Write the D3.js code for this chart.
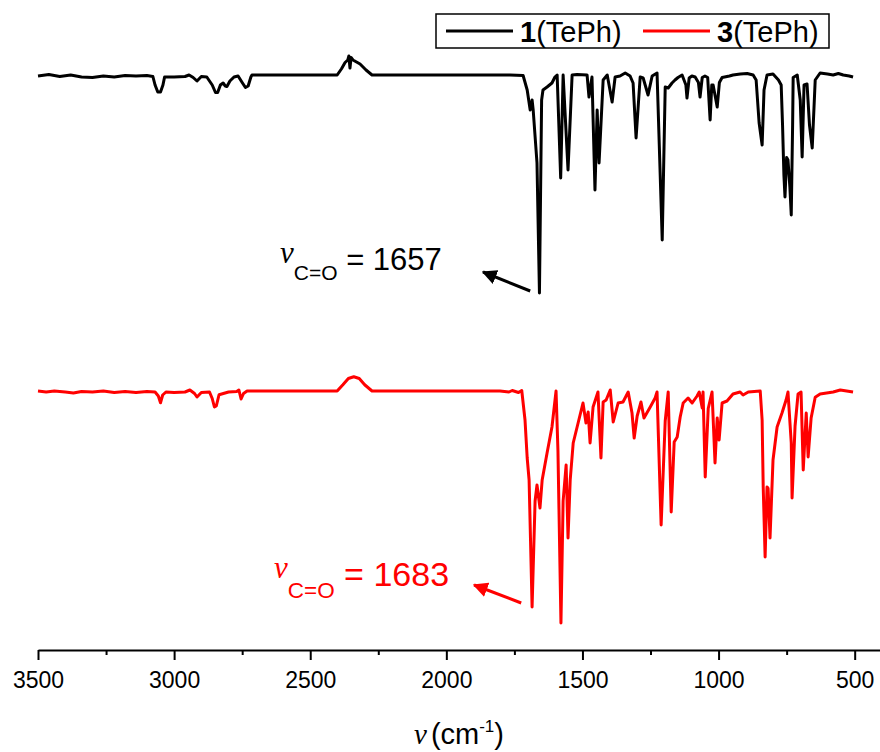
<!DOCTYPE html>
<html>
<head>
<meta charset="utf-8">
<script src="https://cdn.jsdelivr.net/npm/d3@7"></script>
<style>
  body { margin: 0; background: #fff; }
  svg { display: block; font-family: "Liberation Sans", Arial, sans-serif; }
</style>
</head>
<body>
<svg id="chart" width="880" height="752"></svg>
<script>
const SVG_WIDTH = 880;
const SVG_HEIGHT = 752;

// x axis ticks (cm-1)
const majorTicks = [3500, 3000, 2500, 2000, 1500, 1000, 500];
const minorTicks = [3250, 2750, 2250, 1750, 1250, 750];

const seriesNames = ['1', '3'];
const seriesColors = ['#000000', '#ff0000'];
// vertical stacking offset of each trace (transmittance units)
const seriesOffsets = [126.4, 0];
const carbonylBands = [1657, 1683];

// [wavenumber, %T]
const spectrum1 = [
  [3500, 99.6], [3460, 100.2], [3420, 99.4], [3380, 100], [3340, 99.2], [3300, 99.0],
  [3260, 99.6], [3220, 99.2], [3180, 99.8], [3140, 99.6], [3100, 99.8], [3078, 99.4],
  [3070, 96], [3060, 93.2], [3050, 93.2], [3041, 96], [3035, 99.2], [3000, 99.2],
  [2960, 99.4], [2945, 100], [2930, 99], [2916, 97.6], [2900, 99.4], [2880, 99.2],
  [2860, 96], [2848, 93], [2840, 93], [2830, 96], [2820, 96.8], [2812, 95.6],
  [2806, 95.4], [2795, 97.6], [2780, 99.2], [2765, 99.6], [2750, 97], [2738, 95],
  [2728, 95.6], [2718, 99.2], [2714, 100], [2600, 100], [2500, 100], [2401, 100],
  [2385, 102.5], [2372, 105], [2362, 106], [2358, 107.6], [2354, 102.8], [2350, 107],
  [2343, 106], [2317, 104.4], [2295, 102], [2273, 100], [2200, 100], [2100, 100],
  [2000, 100], [1900, 100], [1800, 100], [1766, 100], [1718, 99.8], [1703, 94],
  [1692, 86], [1685, 90], [1681, 86], [1667, 64.8], [1658, 12.8], [1650, 90],
  [1645, 94], [1630, 95.2], [1612, 96.8], [1601, 99.2], [1593, 100], [1580, 58.8],
  [1571, 100], [1553, 62], [1538, 100], [1520, 100.2], [1483, 100], [1476, 91.2],
  [1465, 99.2], [1454, 54], [1446, 86], [1439, 64.8], [1424, 98], [1409, 100],
  [1391, 89.2], [1380, 99.2], [1362, 99.6], [1343, 100.8], [1325, 99.6], [1314, 96.8],
  [1303, 74.8], [1288, 99.2], [1277, 98.8], [1259, 92], [1244, 99.6], [1226, 100.8],
  [1207, 34], [1196, 95.2], [1185, 94.8], [1171, 96.8], [1160, 98], [1149, 99],
  [1134, 100], [1120, 96], [1116, 90.8], [1108, 98.8], [1098, 99.6], [1086, 99.2],
  [1074, 97], [1068, 91.2], [1060, 99], [1050, 99.6], [1040, 99], [1031, 82],
  [1025, 96], [1020, 96], [1005, 87.2], [997, 97], [987, 99], [960, 99.6],
  [947, 100], [920, 100.4], [895, 100.6], [873, 100], [862, 98], [851, 80.8],
  [840, 72], [833, 94], [822, 100], [800, 100.4], [780, 98], [770, 96],
  [765, 80], [760, 60], [756, 51.2], [750, 67], [745, 66], [738, 55],
  [733, 44], [728, 80], [726, 99], [711, 100], [700, 90], [693, 67.2],
  [686, 96], [675, 96.4], [666, 80], [656, 70.8], [645, 98], [627, 100.8],
  [600, 100.4], [579, 100], [560, 100.6], [542, 100], [520, 99.6], [506, 99.2]
];

const spectrum3 = [
  [3500, 100], [3470, 99.6], [3440, 100], [3400, 99.6], [3370, 99.2], [3340, 99.8],
  [3300, 99.6], [3260, 100], [3220, 99.4], [3180, 99.8], [3140, 99.4], [3100, 99.8],
  [3070, 99.6], [3058, 98], [3050, 95.3], [3042, 98.4], [3030, 99.6], [3000, 99.4],
  [2960, 99.6], [2942, 100.4], [2925, 99], [2916, 97.6], [2900, 99.4], [2870, 99.6],
  [2860, 97], [2852, 93.6], [2845, 94], [2835, 98.5], [2800, 99.6], [2770, 99.8],
  [2762, 100.4], [2754, 96.8], [2745, 99], [2732, 100], [2600, 100], [2500, 100],
  [2401, 100], [2380, 102.5], [2360, 105], [2340, 105.7], [2320, 105], [2300, 102.5],
  [2273, 100], [2000, 100], [1803, 100], [1770, 99.6], [1758, 100.2], [1735, 99.4],
  [1723, 100.2], [1711, 88.4], [1703, 73.2], [1696, 64.4], [1685, 13.6], [1674, 56],
  [1667, 62.4], [1656, 53.2], [1648, 64.4], [1630, 75.2], [1612, 85.6], [1597, 100],
  [1590, 76], [1579, 7.2], [1571, 56], [1560, 70.4], [1553, 41.2], [1545, 64.4],
  [1534, 79.2], [1516, 87.2], [1498, 95.2], [1487, 87.2], [1479, 91.6], [1472, 79.2],
  [1461, 93.6], [1443, 99.6], [1432, 73.2], [1424, 95.6], [1413, 96.4], [1398, 100.4],
  [1387, 87.6], [1369, 95.2], [1351, 95.6], [1332, 99.6], [1318, 91.2], [1310, 81.2],
  [1299, 90], [1285, 95.6], [1274, 89.2], [1251, 93.6], [1233, 97.2], [1226, 99.6],
  [1211, 46.4], [1196, 88], [1185, 99.6], [1174, 51.6], [1163, 79.6], [1152, 81.6],
  [1141, 89.6], [1130, 95.2], [1112, 97.2], [1097, 95.2], [1079, 98], [1071, 99.6],
  [1060, 93.2], [1057, 99.6], [1049, 65.6], [1038, 93], [1024, 99.6], [1013, 71.2],
  [1005, 89.2], [998, 80.4], [987, 95.2], [969, 96], [947, 98.8], [921, 99.6],
  [910, 98.4], [891, 99.6], [847, 100], [840, 88.4], [836, 61.6], [829, 33.6],
  [822, 61.6], [818, 61], [811, 41.2], [800, 72.4], [785, 85.6], [767, 91.2],
  [752, 96.4], [745, 99.6], [733, 79.2], [730, 57.2], [719, 86], [708, 98.8],
  [697, 99.6], [689, 68.4], [678, 91.2], [671, 73.6], [660, 89.2], [645, 97.5],
  [627, 98.8], [579, 99.6], [553, 100.4], [506, 99.6]
];

const spectra = [spectrum1, spectrum3];

const svg = d3.select('#chart');

const xScale = d3.scaleLinear()
  .domain([3500, 407])
  .range([38, SVG_WIDTH]);

const yScale = d3.scaleLinear()
  .domain([-3.6, 256.4])
  .range([650, 0]);

// axis
const axisG = svg.append('g')
  .attr('transform', 'translate(0,650)')
  .call(d3.axisBottom(xScale)
    .tickValues(majorTicks)
    .tickFormat(d3.format('d'))
    .tickSize(10)
    .tickSizeOuter(0)
    .tickPadding(12));

axisG.select('.domain').attr('stroke', '#000').attr('stroke-width', 2);
axisG.selectAll('.tick line').attr('stroke', '#000').attr('stroke-width', 2);
axisG.selectAll('.tick text')
  .attr('font-family', '"Liberation Sans Narrow", "Liberation Sans", Arial, sans-serif')
  .attr('font-size', 23)
  .attr('fill', '#000');

const minorG = svg.append('g')
  .attr('transform', 'translate(0,650)')
  .call(d3.axisBottom(xScale).tickValues(minorTicks).tickSize(5).tickFormat(''));
minorG.select('.domain').remove();
minorG.selectAll('.tick line').attr('stroke', '#000').attr('stroke-width', 2);

// axis title
const title = svg.append('text')
  .attr('x', 459)
  .attr('y', 744)
  .attr('text-anchor', 'middle')
  .attr('font-size', 29)
  .attr('fill', '#000');
title.append('tspan').attr('font-family', '"Liberation Serif", serif').attr('font-style', 'italic').text('ν');
title.append('tspan').attr('dx', 4).text('(cm');
title.append('tspan').attr('dy', -12).attr('font-size', 17).text('-1');
title.append('tspan').attr('dy', 12).text(')');

// spectra
const line = d3.line()
  .x(d => xScale(d[0]))
  .y(d => d[1]);

spectra.forEach((data, i) => {
  svg.append('path')
    .datum(data.map(d => [d[0], yScale(d[1] + seriesOffsets[i])]))
    .attr('fill', 'none')
    .attr('stroke', seriesColors[i])
    .attr('stroke-width', 3)
    .attr('stroke-linejoin', 'round')
    .attr('d', line);
});

// carbonyl annotations
const defs = svg.append('defs');
seriesColors.forEach((c, i) => {
  defs.append('marker')
    .attr('id', `arrow${i}`)
    .attr('viewBox', '0 0 10 10')
    .attr('refX', 9).attr('refY', 5)
    .attr('markerWidth', 5).attr('markerHeight', 5)
    .attr('orient', 'auto')
    .append('path')
    .attr('d', 'M0,0L10,5L0,10z')
    .attr('fill', c);
});

// arrow tail/head and label anchor in data units [wavenumber, %T]
const annotations = [
  { tail: [1692, 13.6], head: [1865, 21.2], label: [2611, 24.8], sub: 17, main: 7, subSize: 21, mainSize: 31 },
  { tail: [1725, 15.2], head: [1898, 22.4], label: [2633, 25.2], sub: 20, main: 8, subSize: 22.5, mainSize: 34 }
];

annotations.forEach((a, i) => {
  const off = seriesOffsets[i];
  svg.append('line')
    .attr('x1', xScale(a.tail[0])).attr('y1', yScale(a.tail[1] + off))
    .attr('x2', xScale(a.head[0])).attr('y2', yScale(a.head[1] + off))
    .attr('stroke', seriesColors[i])
    .attr('stroke-width', 3)
    .attr('marker-end', `url(#arrow${i})`);

  const t = svg.append('text')
    .attr('x', xScale(a.label[0]))
    .attr('y', yScale(a.label[1] + off))
    .attr('fill', seriesColors[i]);
  t.append('tspan')
    .attr('font-family', '"Liberation Serif", serif')
    .attr('font-style', 'italic')
    .attr('font-size', 31)
    .text('ν');
  t.append('tspan').attr('dy', a.sub).attr('font-size', a.subSize).text('C=O');
  t.append('tspan').attr('dy', a.main - a.sub).attr('font-size', a.mainSize).text(` = ${carbonylBands[i]}`);
});

// legend
const legend = svg.append('g');
legend.append('rect')
  .attr('x', 436).attr('y', 14)
  .attr('width', 393).attr('height', 34)
  .attr('fill', '#fff')
  .attr('stroke', '#000')
  .attr('stroke-width', 1.5);

const legendX = [446, 643];
seriesNames.forEach((name, i) => {
  legend.append('line')
    .attr('x1', legendX[i]).attr('x2', legendX[i] + 67)
    .attr('y1', 31).attr('y2', 31)
    .attr('stroke', seriesColors[i])
    .attr('stroke-width', 3);
  const lt = legend.append('text')
    .attr('x', legendX[i] + 74)
    .attr('y', 42)
    .attr('font-size', 29)
    .attr('fill', '#000');
  lt.append('tspan').attr('font-weight', 'bold').text(name);
  lt.append('tspan').text('(TePh)');
});
</script>
</body>
</html>
